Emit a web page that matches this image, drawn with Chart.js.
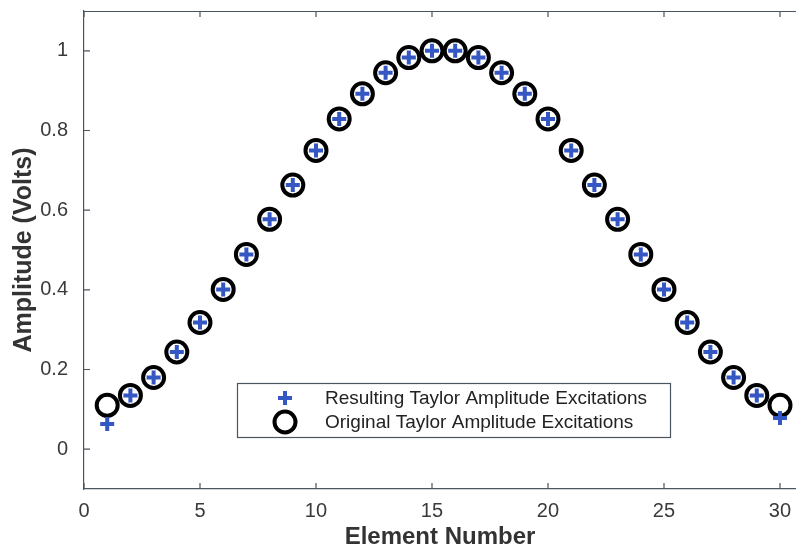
<!DOCTYPE html>
<html lang="en">
<head>
    <meta charset="UTF-8">
    <title>Taylor Amplitude Excitations</title>
    <script src="https://cdn.jsdelivr.net/npm/chart.js"></script>
    <style>
        html, body { margin: 0; padding: 0; background: #fff; overflow: hidden; }
        #wrap { position: relative; width: 796px; height: 552px; }
    </style>
</head>
<body>
    <div id="wrap">
        <canvas id="taylorChart" width="796" height="552"></canvas>
    </div>

    <script>
        // element numbers 1..30
        const elements = [1, 2, 3, 4, 5, 6, 7, 8, 9, 10, 11, 12, 13, 14, 15,
                          16, 17, 18, 19, 20, 21, 22, 23, 24, 25, 26, 27, 28, 29, 30];
        // original Taylor excitations (circles)
        const original = [0.110, 0.135, 0.180, 0.244, 0.318, 0.401, 0.489, 0.577, 0.663, 0.750,
                          0.829, 0.892, 0.945, 0.983, 1.000, 1.000, 0.983, 0.945, 0.892, 0.829,
                          0.750, 0.663, 0.577, 0.489, 0.401, 0.318, 0.244, 0.180, 0.135, 0.110];
        // resulting excitations (plus markers) - differ only at the ends
        const resulting = [0.063, 0.135, 0.180, 0.244, 0.318, 0.401, 0.489, 0.577, 0.663, 0.750,
                           0.829, 0.892, 0.945, 0.983, 1.000, 1.000, 0.983, 0.945, 0.892, 0.829,
                           0.750, 0.663, 0.577, 0.489, 0.401, 0.318, 0.244, 0.180, 0.135, 0.078];
        const xTicks = [0, 5, 10, 15, 20, 25, 30];
        const yTicks = [0, 0.2, 0.4, 0.6, 0.8, 1];
        const seriesNames = ['Resulting Taylor Amplitude Excitations', 'Original Taylor Amplitude Excitations'];

        const axisColor = '#4b5560';
        const textColor = '#3a3a3a';
        const plusColor = '#3557c4';
        const fontFamily = '"Liberation Sans", Arial, sans-serif';

        // no extra room for overflowing tick labels
        function noPadding(s) {
            s.paddingLeft = 0;
            s.paddingRight = 0;
            s.paddingTop = 0;
            s.paddingBottom = 0;
        }

        // inward tick marks + top box line (MATLAB style)
        const matlabAxes = {
            id: 'matlabAxes',
            afterDraw(chart) {
                const ctx = chart.ctx;
                const area = chart.chartArea;
                const xs = chart.scales.x, ys = chart.scales.y;
                ctx.save();
                ctx.strokeStyle = axisColor;
                ctx.lineWidth = 1.2;
                ctx.beginPath();
                ctx.moveTo(area.left, area.top + 0.5);
                ctx.lineTo(area.right, area.top + 0.5);
                xs.ticks.forEach(t => {
                    const px = xs.getPixelForValue(t.value);
                    ctx.moveTo(px, area.bottom);
                    ctx.lineTo(px, area.bottom - 6);
                    ctx.moveTo(px, area.top);
                    ctx.lineTo(px, area.top + 6);
                });
                ys.ticks.forEach(t => {
                    const py = ys.getPixelForValue(t.value);
                    ctx.moveTo(area.left, py);
                    ctx.lineTo(area.left + 6, py);
                });
                ctx.stroke();
                ctx.restore();
            }
        };

        // boxed legend inside the axes
        const boxLegend = {
            id: 'boxLegend',
            afterDraw(chart, args, opts) {
                const ctx = chart.ctx;
                const b = opts.box;
                ctx.save();
                ctx.fillStyle = '#fff';
                ctx.fillRect(b.x, b.y, b.w, b.h);
                ctx.strokeStyle = axisColor;
                ctx.lineWidth = 1.2;
                ctx.strokeRect(b.x + 0.5, b.y + 0.5, b.w, b.h);
                chart.data.datasets.forEach((ds, i) => {
                    const cy = b.y + 15 + i * 24;
                    const mx = b.x + 48;
                    ctx.strokeStyle = ds.borderColor;
                    ctx.fillStyle = 'rgba(0,0,0,0)';
                    ctx.lineWidth = ds.borderWidth;
                    Chart.helpers.drawPoint(ctx, {
                        pointStyle: ds.pointStyle,
                        radius: ds.pointRadius,
                        borderWidth: ds.borderWidth,
                        rotation: 0
                    }, mx, cy);
                    ctx.fillStyle = '#222';
                    ctx.font = '19px ' + fontFamily;
                    ctx.textBaseline = 'middle';
                    ctx.textAlign = 'left';
                    ctx.fillText(ds.label, b.x + 88, cy + 1);
                });
                ctx.restore();
            }
        };

        const ctx = document.getElementById('taylorChart').getContext('2d');
        const taylorChart = new Chart(ctx, {
            type: 'scatter',
            data: {
                datasets: [{
                    label: seriesNames[0],
                    data: elements.map((e, i) => ({ x: e, y: resulting[i] })),
                    pointStyle: 'cross',
                    pointRadius: 7,
                    borderWidth: 4,
                    borderColor: plusColor,
                    backgroundColor: plusColor
                }, {
                    label: seriesNames[1],
                    data: elements.map((e, i) => ({ x: e, y: original[i] })),
                    pointStyle: 'circle',
                    pointRadius: 10.5,
                    borderWidth: 4,
                    borderColor: '#000',
                    backgroundColor: 'rgba(255,255,255,0)'
                }]
            },
            options: {
                responsive: false,
                animation: false,
                layout: { autoPadding: false, padding: { top: 11, left: 0, right: 0, bottom: 0 } },
                plugins: {
                    legend: { display: false },
                    tooltip: { enabled: false },
                    boxLegend: { box: { x: 237, y: 383, w: 433, h: 54 } }
                },
                scales: {
                    x: {
                        type: 'linear',
                        min: 0,
                        max: 30.69,
                        afterBuildTicks: s => { s.ticks = xTicks.map(v => ({ value: v })); },
                        afterFit: s => { s.height = 63; noPadding(s); },
                        grid: { display: false, drawTicks: false },
                        border: { display: true, color: axisColor, width: 1.2 },
                        ticks: {
                            padding: 10,
                            color: textColor,
                            font: { family: fontFamily, size: 20 },
                            maxRotation: 0
                        },
                        title: {
                            display: true,
                            text: 'Element Number',
                            color: '#333',
                            font: { family: fontFamily, size: 24, weight: 'bold' },
                            padding: { top: 0, bottom: 0 }
                        }
                    },
                    y: {
                        type: 'linear',
                        min: -0.1,
                        max: 1.1,
                        afterBuildTicks: s => { s.ticks = yTicks.map(v => ({ value: v })); },
                        afterFit: s => { s.width = 84; noPadding(s); },
                        grid: { display: false, drawTicks: false },
                        border: { display: true, color: axisColor, width: 1.2 },
                        ticks: {
                            padding: 16,
                            color: textColor,
                            font: { family: fontFamily, size: 20 },
                            callback: v => String(+v.toFixed(1))
                        },
                        title: {
                            display: true,
                            text: 'Amplitude (Volts)',
                            color: '#333',
                            font: { family: fontFamily, size: 25, weight: 'bold' },
                            padding: { top: 9, bottom: 0 }
                        }
                    }
                }
            },
            plugins: [matlabAxes, boxLegend]
        });
    </script>
</body>
</html>
